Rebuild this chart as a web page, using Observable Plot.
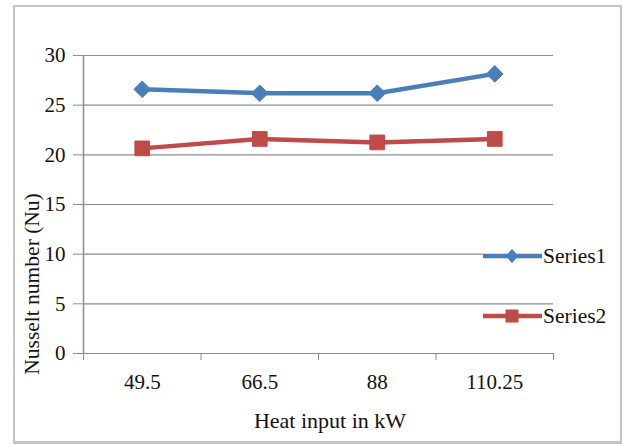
<!DOCTYPE html>
<html>
<head>
<meta charset="utf-8">
<script src="https://cdn.jsdelivr.net/npm/d3@7"></script>
<script src="https://cdn.jsdelivr.net/npm/@observablehq/plot@0.6"></script>
<style>
  html, body { margin: 0; padding: 0; background: #fff; }
  #wrap { position: relative; width: 623px; height: 445px; overflow: hidden; }
  #frame { position: absolute; left: 13px; top: 5px; width: 609px; height: 439px; border: 2px solid #c4c4c4; border-bottom-width: 3px; box-sizing: border-box; pointer-events: none; }
  .leg { position: absolute; background: #fff; display: flex; align-items: center; font-family: "Liberation Serif", "DejaVu Serif", serif; font-size: 21.5px; color: #111; }
  svg text, svg g { font-family: "Liberation Serif", "DejaVu Serif", serif !important; }
</style>
</head>
<body>
<div id="wrap"><div id="frame"></div></div>
<script>
const categories = ["49.5", "66.5", "88", "110.25"];
const series1 = [26.6, 26.2, 26.2, 28.15];
const series2 = [20.65, 21.6, 21.25, 21.6];
const seriesNames = ["Series1", "Series2"];
const yTicks = [0, 5, 10, 15, 20, 25, 30];
const colors = ["#4a7ebb", "#be4b48"];
const xTitle = "Heat input in kW";
const yTitle = "Nusselt number (Nu)";

const data = [];
categories.forEach((c, i) => {
  data.push({series: seriesNames[0], xi: i + 0.5, value: series1[i]});
  data.push({series: seriesNames[1], xi: i + 0.5, value: series2[i]});
});
const s1 = data.filter(d => d.series === seriesNames[0]);
const s2 = data.filter(d => d.series === seriesNames[1]);

const chart = Plot.plot({
  width: 623,
  height: 445,
  marginLeft: 83,
  marginRight: 70,
  marginTop: 55,
  marginBottom: 92,
  style: {fontSize: "21px", color: "#111", background: "transparent"},
  x: {type: "linear", domain: [0, categories.length]},
  y: {domain: [0, 30]},
  marks: [
    Plot.gridY(yTicks, {stroke: "#8c8c8c", strokeOpacity: 1, strokeWidth: 1.2}),
    Plot.ruleX([0], {stroke: "#8c8c8c", strokeWidth: 1.5}),
    Plot.axisY({ticks: yTicks, tickSize: 10, tickPadding: 8, stroke: "#8c8c8c", label: null, fontSize: 21}),
    Plot.axisX({ticks: d3.range(categories.length + 1), tickSize: 7, tickFormat: () => "", stroke: "#8c8c8c", label: null}),
    Plot.axisX({ticks: categories.map((c, i) => i + 0.5), tickSize: 0, tickPadding: 21, tickFormat: (d) => categories[Math.floor(d)], label: null, fontSize: 21}),
    Plot.line(s1, {x: "xi", y: "value", stroke: colors[0], strokeWidth: 4.5}),
    Plot.line(s2, {x: "xi", y: "value", stroke: colors[1], strokeWidth: 4.5}),
    Plot.dot(s1, {x: "xi", y: "value", symbol: "diamond2", r: 7.5, fill: colors[0], stroke: colors[0], strokeWidth: 1}),
    Plot.dot(s2, {x: "xi", y: "value", symbol: "square", r: 8.3, fill: colors[1], stroke: colors[1], strokeWidth: 1})
  ]
});
chart.style.position = "absolute";
chart.style.left = "0px";
chart.style.top = "0px";
const wrap = document.getElementById("wrap");
wrap.insertBefore(chart, wrap.firstChild);

const svg = d3.select(chart);
svg.append("text")
  .attr("x", 330).attr("y", 428)
  .attr("text-anchor", "middle")
  .attr("font-size", 22).attr("fill", "#111")
  .text(xTitle);
svg.append("text")
  .attr("transform", "translate(39,284) rotate(-90)")
  .attr("text-anchor", "middle")
  .attr("font-size", 21.5).attr("fill", "#111")
  .text(yTitle);

const legPos = [{left: 483, top: 245}, {left: 483, top: 305}];
seriesNames.forEach((name, i) => {
  const div = document.createElement("div");
  div.className = "leg";
  div.style.left = legPos[i].left + "px";
  div.style.top = legPos[i].top + "px";
  div.style.height = "22px";
  const sym = i === 0
    ? `<path d="M29,4 L35.5,11 L29,18 L22.5,11 Z" fill="${colors[0]}"/>`
    : `<rect x="22.5" y="4.5" width="13" height="13" fill="${colors[1]}"/>`;
  div.innerHTML = `<svg width="59" height="22"><line x1="0" x2="59" y1="11" y2="11" stroke="${colors[i]}" stroke-width="4.5"/>${sym}</svg><span style="margin-left:1px">${name}</span>`;
  wrap.appendChild(div);
});
</script>
</body>
</html>
